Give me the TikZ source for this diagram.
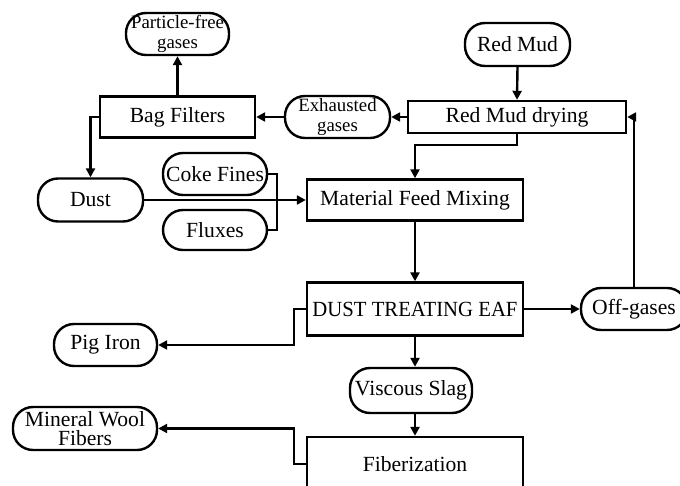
\documentclass[tikz,border=0pt]{standalone}
\usepackage{fontspec}
\setmainfont{Liberation Serif}
\usetikzlibrary{arrows.meta}

\tikzset{
	pill/.style={draw, line width=1.2pt, rectangle, rounded corners=10pt, inner sep=0pt, align=center, font=\fontsize{10.8}{9.4}\selectfont},
	smallpill/.style={pill, font=\fontsize{9.4}{10.4}\selectfont},
	stagebox/.style={draw, line width=1.2pt, rectangle, inner sep=0pt, minimum width=108pt, font=\fontsize{10.8}{10}\selectfont},
	flow/.style={line width=1.2pt, -{Triangle[length=4.5pt,width=4.5pt]}},
	feed/.style={line width=1.2pt}
}

\begin{document}
\begin{tikzpicture}[x=0.5pt, y=-0.5pt]
			%%%%% START %%%%%
			\useasboundingbox (0,0) rectangle (680,486);
			
			% stages
			\node[stagebox, minimum width=77.5pt, minimum height=20.5pt] (bag) at (177.5,117) {Bag Filters};
			\node[stagebox, minimum width=109pt, minimum height=16pt] (rmd) at (517,117) {Red Mud drying};
			\node[stagebox, minimum height=20.5pt] (mfm) at (415,200) {Material Feed Mixing};
			\node[stagebox, minimum height=26.5pt] (eaf) at (415,309) {\scalebox{0.96}[1]{DUST TREATING EAF}};
			\node[stagebox, minimum height=27pt] (fib) at (415,464) {Fiberization};
			
			% inputs and outputs
			\node[smallpill, minimum width=51.5pt, minimum height=21pt] (pfg) at (177.5,34) {Particle-free\\gases};
			\node[smallpill, minimum width=52.5pt, minimum height=21pt] (exh) at (337.5,117) {Exhausted\\gases};
			\node[pill, minimum width=52.5pt, minimum height=21.5pt] (red) at (517.5,44.5) {Red Mud};
			\node[pill, minimum width=52.5pt, minimum height=21.5pt] (dust) at (90.5,200) {Dust};
			\node[pill, minimum width=52pt, minimum height=21pt] (coke) at (215,174) {Coke Fines};
			\node[pill, minimum width=52pt, minimum height=20pt] (flux) at (215,230) {Fluxes};
			\node[pill, minimum width=53pt, minimum height=21pt] (off) at (634,309) {Off-gases};
			\node[pill, minimum width=51.5pt, minimum height=21pt] (pig) at (105.5,345) {Pig Iron};
			\node[pill, minimum width=61pt, minimum height=22.5pt] (slag) at (411,390.5) {Viscous Slag};
			\node[pill, minimum width=72pt, minimum height=21.5pt] (mwf) at (85,428.5) {Mineral Wool\\Fibers};
			
			\coordinate (mixin) at (277,200);
			
			% gas line
			\draw[flow] (red.south) -- (rmd.north);
			\draw[flow] (rmd.west) -- (exh.east);
			\draw[flow] (exh.west) -- (bag.east);
			\draw[flow] (bag.north) -- (pfg.south);
			\draw[flow] (bag.west) -| (dust.north);
			\draw[flow] (off.north) |- (rmd.east);
			
			% solids line
			\draw[flow] (rmd.south) -- ++(0,11) -| (mfm.north);
			\draw[flow] (dust.east) -- (mfm.west);
			\draw[feed] (coke.east) -| (mixin);
			\draw[feed] (flux.east) -| (mixin);
			\draw[flow] (mfm.south) -- (eaf.north);
			\draw[flow] (eaf.east) -- (off.west);
			\draw[flow] (eaf.west) -- ++(-12,0) |- (pig.east);
			\draw[flow] (eaf.south) -- (eaf.south |- slag.north);
			\draw[flow] (fib.north |- slag.south) -- (fib.north);
			\draw[flow] (fib.west) -- ++(-12,0) |- (mwf.east);
			
			%%%%% END %%%%%
\end{tikzpicture}
\end{document}
